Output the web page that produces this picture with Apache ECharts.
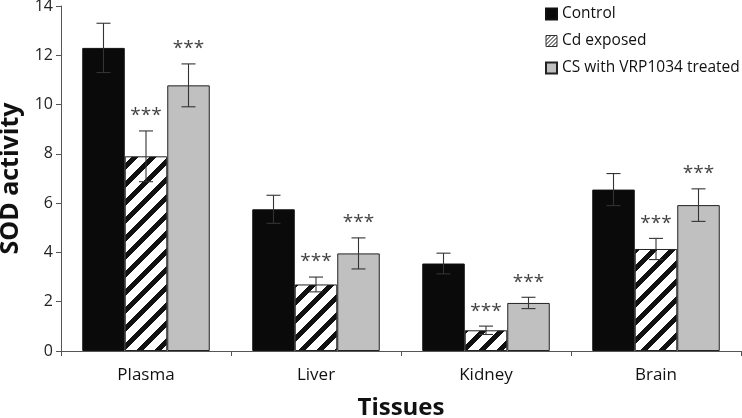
<!DOCTYPE html>
<html><head><meta charset="utf-8">
<script src="https://cdn.jsdelivr.net/npm/echarts@6/dist/echarts.min.js"></script>
<style>html,body{margin:0;padding:0;background:#fff}#c{width:742px;height:418px}</style>
</head><body><div id="c"></div>
<script>
const categories = ['Plasma', 'Liver', 'Kidney', 'Brain'];
const seriesNames = ['Control', 'Cd exposed', 'CS with VRP1034 treated'];
const control = [12.3, 5.75, 3.55, 6.55];
const controlErr = [1.0, 0.57, 0.42, 0.65];
const cd = [7.9, 2.7, 0.84, 4.14];
const cdErr = [1.03, 0.3, 0.17, 0.43];
const cs = [10.78, 3.96, 1.95, 5.92];
const csErr = [0.87, 0.63, 0.23, 0.66];
const cdStars = ['***', '***', '***', '***'];
const csStars = ['***', '***', '***', '***'];
const yTicks = [0, 2, 4, 6, 8, 10, 12, 14];

const FONT = 'Open Sans';

function hatch(s, w) {
  const c = document.createElement('canvas');
  c.width = s; c.height = s;
  const g = c.getContext('2d');
  const img = g.createImageData(s, s);
  for (let y = 0; y < s; y++) {
    for (let x = 0; x < s; x++) {
      const black = ((x + y) % s) < w;
      const i = (y * s + x) * 4;
      const col = black ? 17 : 255;
      img.data[i] = col; img.data[i + 1] = col; img.data[i + 2] = col; img.data[i + 3] = 255;
    }
  }
  g.putImageData(img, 0, 0);
  return c;
}
const hatchPattern = { image: hatch(18, 7), repeat: 'repeat' };
const hatchSmall = { image: hatch(4, 1), repeat: 'repeat' };

const groups = [
  { vals: control, errs: controlErr, stars: null },
  { vals: cd, errs: cdErr, stars: cdStars },
  { vals: cs, errs: csErr, stars: csStars }
];

const errData = [];
groups.forEach((g, gi) => g.vals.forEach((v, ci) => errData.push([ci, v, g.errs[ci], gi])));

function renderErr(params, api) {
  const ci = api.value(0), v = api.value(1), e = api.value(2), gi = api.value(3);
  const bw = api.size([1, 0])[0] * 0.25;
  const center = api.coord([ci, v]);
  const x = center[0] + (gi - 1) * bw;
  const top = api.coord([ci, v + e])[1];
  const bot = api.coord([ci, v - e])[1];
  const cap = 7;
  const st = { stroke: '#333', lineWidth: 1.1 };
  const children = [
    { type: 'line', shape: { x1: x, y1: top, x2: x, y2: bot }, style: st },
    { type: 'line', shape: { x1: x - cap, y1: top, x2: x + cap, y2: top }, style: st },
    { type: 'line', shape: { x1: x - cap, y1: bot, x2: x + cap, y2: bot }, style: st }
  ];
  const g = groups[gi];
  if (g.stars) {
    children.push({ type: 'text', x: x, y: top - 15,
      style: { text: g.stars[ci], fill: '#444', font: '19px "' + FONT + '"', align: 'center', verticalAlign: 'middle' } });
  }
  return { type: 'group', children };
}

const chart = echarts.init(document.getElementById('c'));
chart.setOption({
  animation: false,
  textStyle: { fontFamily: FONT },
  grid: { left: 61, right: 1, top: 6, bottom: 67, containLabel: false, outerBoundsMode: 'none' },
  legend: {
    orient: 'vertical', left: 540, top: 1, itemGap: 11,
    icon: 'rect', itemWidth: 11, itemHeight: 11,
    textStyle: { fontSize: 15.5, color: '#111', fontFamily: FONT },
    data: [
      { name: seriesNames[0] },
      { name: seriesNames[1], itemStyle: { color: hatchSmall, borderColor: '#333', borderWidth: 1 } },
      { name: seriesNames[2] }
    ]
  },
  xAxis: {
    type: 'category', data: categories,
    name: 'Tissues', nameLocation: 'middle', nameGap: 45,
    nameTextStyle: { fontSize: 24, fontWeight: 'bold', color: '#111', fontFamily: FONT },
    axisLine: { lineStyle: { color: '#555', width: 1 } },
    axisTick: { show: true, length: 5, lineStyle: { color: '#555' } },
    axisLabel: { fontSize: 17, color: '#111', margin: 16 }
  },
  yAxis: {
    type: 'value', min: 0, max: 14, interval: 2,
    name: 'SOD activity', nameLocation: 'middle', nameGap: 34, nameRotate: 90,
    nameTextStyle: { fontSize: 25, fontWeight: 'bold', color: '#111', fontFamily: FONT },
    axisLine: { show: true, lineStyle: { color: '#555', width: 1 } },
    axisTick: { show: true, length: 5, lineStyle: { color: '#555' } },
    axisLabel: { fontSize: 16, color: '#222', margin: 8,
      formatter: v => yTicks.includes(v) ? String(v) : '' },
    splitLine: { show: false }
  },
  series: [
    { name: seriesNames[0], type: 'bar', data: control, barGap: '0%', barCategoryGap: '25%',
      itemStyle: { color: '#0a0a0a', borderColor: '#111', borderWidth: 1 } },
    { name: seriesNames[1], type: 'bar', data: cd, barGap: '0%', barCategoryGap: '25%',
      itemStyle: { color: hatchPattern, borderColor: '#222', borderWidth: 1 } },
    { name: seriesNames[2], type: 'bar', data: cs, barGap: '0%', barCategoryGap: '25%',
      itemStyle: { color: '#c0c0c0', borderColor: '#222', borderWidth: 1 } },
    { type: 'custom', renderItem: renderErr, data: errData, z: 5, silent: true,
      encode: { x: 0, y: [1] } }
  ]
});
</script></body></html>
